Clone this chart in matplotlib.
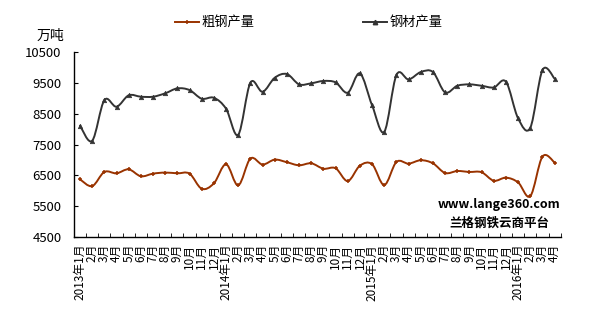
import matplotlib
matplotlib.use("Agg")
import matplotlib.pyplot as plt
from matplotlib.path import Path
from matplotlib.patches import PathPatch
from matplotlib.lines import Line2D
import numpy as np

plt.rcParams['font.family'] = ['Noto Sans CJK SC', 'DejaVu Sans']

# 月份标签 2013年1月 - 2016年4月
months = []
for y in range(2013, 2017):
    for m in range(1, 13):
        if y == 2016 and m > 4:
            break
        months.append(f"{y}年{m}月" if m == 1 else f"{m}月")

crude = [6370, 6150, 6610, 6565, 6695, 6470, 6555, 6590, 6565, 6555,
         6065, 6240, 6860, 6175, 7045, 6850, 7010, 6925, 6825, 6890,
         6715, 6730, 6315, 6815, 6860, 6185, 6935, 6880, 6990, 6890,
         6575, 6640, 6610, 6600, 6325, 6425, 6270, 5825, 7110, 6915]
steel = [8110, 7620, 8940, 8725, 9095, 9050, 9050, 9160, 9320, 9265,
         8985, 9015, 8660, 7815, 9505, 9210, 9665, 9785, 9450, 9485,
         9560, 9515, 9180, 9805, 8770, 7910, 9755, 9610, 9850, 9850,
         9190, 9405, 9450, 9405, 9350, 9535, 8345, 8045, 9915, 9635]

red = '#993300'
dark = '#333333'


def smooth_path(xs, ys):
    # Excel风格平滑曲线：分段三次贝塞尔
    pts = np.column_stack([xs, ys]).astype(float)
    n = len(pts)
    verts = [pts[0]]
    codes = [Path.MOVETO]
    for i in range(n - 1):
        p0 = pts[i - 1] if i > 0 else pts[i]
        p1 = pts[i]
        p2 = pts[i + 1]
        p3 = pts[i + 2] if i + 2 < n else pts[i + 1]
        c1 = p1 + (p2 - p0) / 6
        c2 = p2 - (p3 - p1) / 6
        verts += [c1, c2, p2]
        codes += [Path.CURVE4] * 3
    return Path(verts, codes)


fig = plt.figure(figsize=(6.01, 3.24), dpi=100)
ax = fig.add_axes([0.123, 0.2685, 0.81, 0.571])

x = np.arange(len(months))
for vals, col, mk, ms in [(crude, red, '+', 3.5), (steel, dark, '^', 3.2)]:
    ax.add_patch(PathPatch(smooth_path(x, vals), fill=False, edgecolor=col,
                           lw=1.4, capstyle='round', joinstyle='round'))
    ax.plot(x, vals, linestyle='none', marker=mk, color=col, ms=ms,
            mew=1.1 if mk == '+' else 0.5)

ax.set_xlim(-0.5, len(months) - 0.5)
ax.set_ylim(4500, 10500)
ax.set_yticks(range(4500, 10501, 1000))
ax.tick_params(axis='y', direction='in', length=3, labelsize=9.5, pad=9)
ax.set_xticks(np.arange(-0.5, len(months), 1), minor=True)
ax.set_xticks(x)
ax.set_xticklabels(months, rotation=90, fontsize=8.5)
ax.tick_params(axis='x', which='major', length=0, pad=5)
ax.tick_params(axis='x', which='minor', direction='in', length=3)
for s in ['top', 'right']:
    ax.spines[s].set_visible(False)
for s in ['left', 'bottom']:
    ax.spines[s].set_color('black')
    ax.spines[s].set_linewidth(1)

fig.text(0.06, 0.89, '万吨', fontsize=10, ha='left', va='center')

handles = [Line2D([], [], color=red, lw=1.4, marker='+', ms=3.5, mew=1.1),
           Line2D([], [], color=dark, lw=1.4, marker='^', ms=3.2)]
fig.legend(handles, ['粗钢产量', '钢材产量'], loc='center',
           bbox_to_anchor=(0.514, 0.93), ncol=2, frameon=False,
           fontsize=9.5, handlelength=1.8, handletextpad=0.2,
           columnspacing=8.2)

fig.text(0.831, 0.368, 'www.lange360.com', fontsize=9, fontweight='bold',
         ha='center', va='center')
fig.text(0.831, 0.311, '兰格钢铁云商平台', fontsize=9, fontweight='bold',
         ha='center', va='center')

fig.savefig('out.png', dpi=100)
